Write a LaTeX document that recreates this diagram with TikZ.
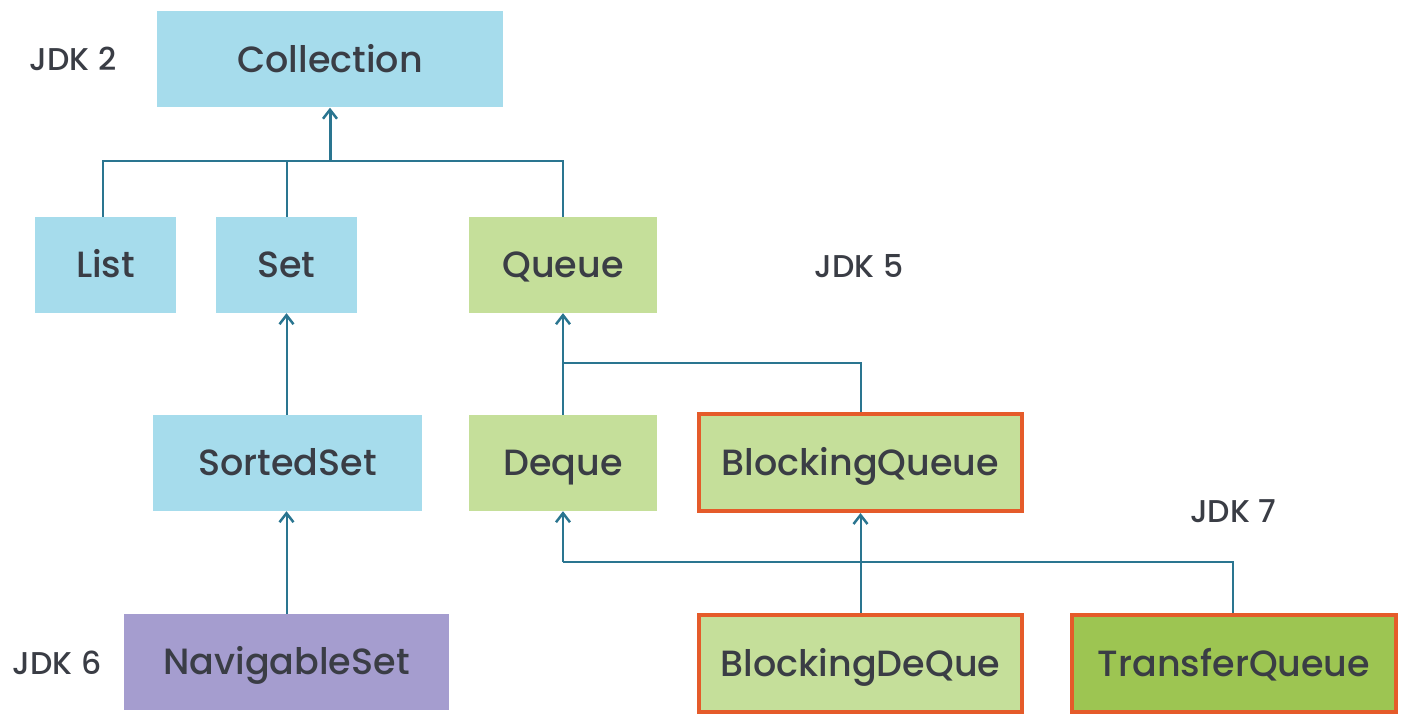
\documentclass[tikz,border=0pt]{standalone}
\usepackage{fontspec}
\setmainfont{Poppins}[UprightFont={* Medium}]
\usetikzlibrary{arrows.meta, positioning}
\definecolor{boxblue}{RGB}{166, 220, 236}
\definecolor{boxgreen}{RGB}{197, 223, 154}
\definecolor{boxlime}{RGB}{157, 197, 82}
\definecolor{boxpurple}{RGB}{165, 157, 207}
\definecolor{newred}{RGB}{229, 91, 42}
\definecolor{linkteal}{RGB}{42, 117, 144}
\definecolor{textgray}{RGB}{58, 61, 69}

\tikzset{
  iface/.style={minimum height=96, inner sep=0pt, text=textgray,
    text height=25.5, text depth=0,
    font=\fontsize{36.5}{42}\selectfont},
  bluebox/.style={iface, fill=boxblue},
  greenbox/.style={iface, fill=boxgreen},
  newbox/.style={iface, fill=boxgreen, draw=newred, line width=4, minimum height=97},
  jdk/.style={text=textgray, text height=22, text depth=0,
    font=\fontsize{31.5}{36}\selectfont},
  link/.style={draw=linkteal, line width=2},
  up/.style={link, -{Straight Barb[length=9, width=14, line width=2.5]}}
}

\begin{document}
\begin{tikzpicture}[x=1pt, y=-1pt]
  \useasboundingbox (0, 0) rectangle (1409, 722);

  % JDK 2
  \node[bluebox, minimum width=346] (coll) at (330, 59.5) {Collection};
  \node[bluebox, minimum width=141] (list) at (105.5, 265) {List};
  \node[bluebox, minimum width=141] (set) at (286.5, 265) {Set};
  \node[jdk] (jdk2) at (73, 60) {JDK 2};

  % JDK 5
  \node[greenbox, minimum width=188] (queue) at (563, 265) {Queue};
  \node[bluebox, minimum width=269] (sorted) at (287.5, 463) {SortedSet};
  \node[greenbox, minimum width=188] (deque) at (563, 463) {Deque};
  \node[newbox, minimum width=323] (bqueue) at (860.5, 462.5) {BlockingQueue};
  \node[jdk] (jdk5) at (859, 267) {JDK 5};

  % JDK 6
  \node[iface, fill=boxpurple, minimum width=325] (navset) at (286.5, 662) {NavigableSet};
  \node[newbox, minimum width=323] (bdeque) at (860.5, 663.5) {BlockingDeQue};
  \node[jdk] (jdk6) at (57, 663) {JDK 6};

  % JDK 7
  \node[newbox, fill=boxlime, minimum width=324] (tqueue) at (1234, 663.5) {TransferQueue};
  \node[jdk] (jdk7) at (1233, 511) {JDK 7};

  % Collection tree
  \coordinate (jcoll) at (330, 161);
  \draw[link] (list.north -| 103, 0) |- (jcoll) -| (queue.north);
  \draw[link] (set.north) -- (set.north |- jcoll);
  \draw[up, line width=3] (jcoll) -- (coll.south);

  % Set branch
  \draw[up] (sorted.north -| set.south) -- (set.south);
  \draw[up] (navset.north -| set.south) -- (sorted.south -| set.south);

  % Queue branch
  \coordinate (jqueue) at (563, 363);
  \draw[link] (jqueue) -| (bqueue.north);
  \draw[up] (deque.north) -- (queue.south);
  \draw[up] (bdeque.north) -- (bqueue.south);

  \coordinate (jdeque) at (563, 562);
  \draw[link] (tqueue.north -| 1233, 0) |- (jdeque);
  \draw[up] (jdeque) -- (deque.south);
\end{tikzpicture}
\end{document}
